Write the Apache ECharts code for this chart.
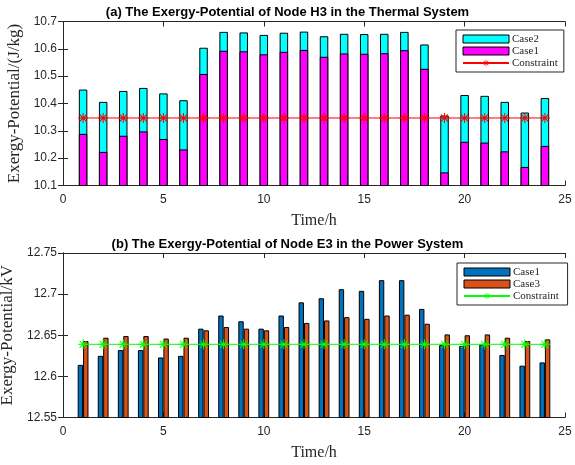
<!DOCTYPE html>
<html><head><meta charset="utf-8">
<script src="https://cdn.jsdelivr.net/npm/echarts@6/dist/echarts.min.js"></script>
<style>html,body{margin:0;padding:0;background:#fff}#c{width:575px;height:465px}</style>
</head><body><div id="c"></div>
<script>
const hours = [1,2,3,4,5,6,7,8,9,10,11,12,13,14,15,16,17,18,19,20,21,22,23,24];
const thermalCase2 = [10.451,10.406,10.446,10.457,10.437,10.412,10.604,10.662,10.660,10.651,10.659,10.663,10.646,10.655,10.654,10.655,10.662,10.616,10.356,10.431,10.428,10.406,10.367,10.420];
const thermalCase1 = [10.289,10.223,10.282,10.298,10.270,10.232,10.508,10.593,10.591,10.580,10.589,10.596,10.571,10.583,10.582,10.584,10.595,10.527,10.148,10.260,10.257,10.225,10.168,10.245];
const thermalConstraint = 10.347;
const powerCase1 = [12.614,12.625,12.632,12.632,12.623,12.625,12.658,12.674,12.667,12.658,12.674,12.690,12.695,12.706,12.704,12.717,12.717,12.682,12.638,12.637,12.639,12.626,12.613,12.617];
const powerCase3 = [12.643,12.647,12.649,12.649,12.646,12.647,12.656,12.660,12.658,12.656,12.660,12.665,12.668,12.672,12.670,12.674,12.675,12.664,12.651,12.650,12.651,12.647,12.643,12.645];
const powerConstraint = 12.639;
const xTicks = [0,5,10,15,20,25];
const thermalTicks = [10.1,10.2,10.3,10.4,10.5,10.6,10.7];
const powerTicks = [12.55,12.6,12.65,12.7,12.75];

const pairs = (ys) => hours.map((h,i)=>[h, ys[i]]);
const flat = (v) => hours.map(h=>[h, v]);
const star = 'path://M-10 -1L10 -1L10 1L-10 1Z M-1 -10L1 -10L1 10L-1 10Z M-7.8 -6.4L-6.4 -7.8L7.8 6.4L6.4 7.8Z M6.4 -7.8L7.8 -6.4L-6.4 7.8L-7.8 6.4Z';

const labelFont = {fontFamily:'Liberation Sans, Arial', fontSize:12, color:'#262626'};
const xNameFont = {fontFamily:'Liberation Serif, Times New Roman', fontSize:16, color:'#262626'};
const yNameFont = {fontFamily:'Liberation Serif, Times New Roman', fontSize:17, color:'#262626'};
const axLine = {show:true, lineStyle:{color:'#262626', width:1}};

function xAxes(gi){
  return [
    {type:'value', gridIndex:gi, min:xTicks[0], max:xTicks[xTicks.length-1], interval:5, position:'bottom',
     axisLine:axLine, axisTick:{show:true, inside:true, length:5, lineStyle:{color:'#262626'}},
     axisLabel:Object.assign({margin:8}, labelFont), splitLine:{show:false},
     name:'Time/h', nameLocation:'middle', nameGap:27, nameTextStyle:xNameFont},
    {type:'value', gridIndex:gi, min:xTicks[0], max:xTicks[xTicks.length-1], interval:5, position:'top',
     axisLine:axLine, axisTick:{show:true, inside:true, length:5, lineStyle:{color:'#262626'}},
     axisLabel:{show:false}, splitLine:{show:false}}
  ];
}
function yAxes(gi, ticks, interval, name){
  const min = ticks[0], max = ticks[ticks.length-1];
  return [
    {type:'value', gridIndex:gi, min:min, max:max, interval:interval, position:'left',
     axisLine:axLine, axisTick:{show:true, inside:true, length:5, lineStyle:{color:'#262626'}},
     axisLabel:Object.assign({margin:6}, labelFont), splitLine:{show:false},
     name:name, nameLocation:'middle', nameGap:29, nameTextStyle:yNameFont},
    {type:'value', gridIndex:gi, min:min, max:max, interval:interval, position:'right',
     axisLine:axLine, axisTick:{show:true, inside:true, length:5, lineStyle:{color:'#262626'}},
     axisLabel:{show:false}, splitLine:{show:false}}
  ];
}

const chart = echarts.init(document.getElementById('c'), null, {renderer:'canvas'});
const legendCommon = {
  orient:'vertical', backgroundColor:'#fff', borderColor:'#262626', borderWidth:1,
  padding:[3,6,3,6], itemWidth:46, itemHeight:8, itemGap:0, align:'left',
  itemStyle:{borderWidth:1},
  textStyle:{fontFamily:'Liberation Serif, Times New Roman', fontSize:11, lineHeight:12, color:'#262626', padding:[0,0,0,-2]}
};
chart.setOption({
  animation:false,
  title:[
    {text:'(a) The Exergy-Potential of Node H3 in the Thermal System', left:'center', top:1,
     textStyle:{fontFamily:'Liberation Sans, Arial', fontWeight:'bold', fontSize:13, color:'#000'}},
    {text:'(b) The Exergy-Potential of Node E3 in the Power System', left:'center', top:233,
     textStyle:{fontFamily:'Liberation Sans, Arial', fontWeight:'bold', fontSize:13, color:'#000'}}
  ],
  grid:[
    {left:63, right:10, top:21.5, height:164, containLabel:false, outerBoundsMode:'none'},
    {left:63, right:10, top:253, height:164.5, containLabel:false, outerBoundsMode:'none'}
  ],
  xAxis:[...xAxes(0), ...xAxes(1)],
  yAxis:[...yAxes(0, thermalTicks, 0.1, 'Exergy-Potential/(J/kg)'), ...yAxes(1, powerTicks, 0.05, 'Exergy-Potential/kV')],
  legend:[
    Object.assign({}, legendCommon, {left:456, top:30, data:[{name:'Case2', icon:'rect'},{name:'Case1', icon:'rect'},'Constraint']}),
    Object.assign({}, legendCommon, {left:457, top:263, data:[{name:'Case1 ', icon:'rect'},{name:'Case3', icon:'rect'},'Constraint ']})
  ],
  series:[
    {name:'Case2', type:'bar', xAxisIndex:0, yAxisIndex:0, data:pairs(thermalCase2), barWidth:8.5, barGap:'-100%',
     itemStyle:{color:'#00FFFF', borderColor:'#000', borderWidth:1}},
    {name:'Case1', type:'bar', xAxisIndex:0, yAxisIndex:0, data:pairs(thermalCase1), barWidth:8.5, barGap:'-100%',
     itemStyle:{color:'#FF00FF', borderColor:'#000', borderWidth:1}},
    {name:'Constraint', type:'line', xAxisIndex:0, yAxisIndex:0, data:flat(thermalConstraint),
     symbol:star, symbolSize:10, lineStyle:{color:'#FF0000', width:1}, itemStyle:{color:'#FF0000'}},
    {name:'Case1 ', type:'bar', xAxisIndex:2, yAxisIndex:2, data:pairs(powerCase1), barWidth:5.4, barGap:'0%',
     itemStyle:{color:'#0072BD', borderColor:'#000', borderWidth:1}},
    {name:'Case3', type:'bar', xAxisIndex:2, yAxisIndex:2, data:pairs(powerCase3), barWidth:5.4, barGap:'0%',
     itemStyle:{color:'#D95319', borderColor:'#000', borderWidth:1}},
    {name:'Constraint ', type:'line', xAxisIndex:2, yAxisIndex:2, data:flat(powerConstraint),
     symbol:star, symbolSize:10, lineStyle:{color:'#00FF00', width:1}, itemStyle:{color:'#00FF00'}}
  ]
});
</script></body></html>
